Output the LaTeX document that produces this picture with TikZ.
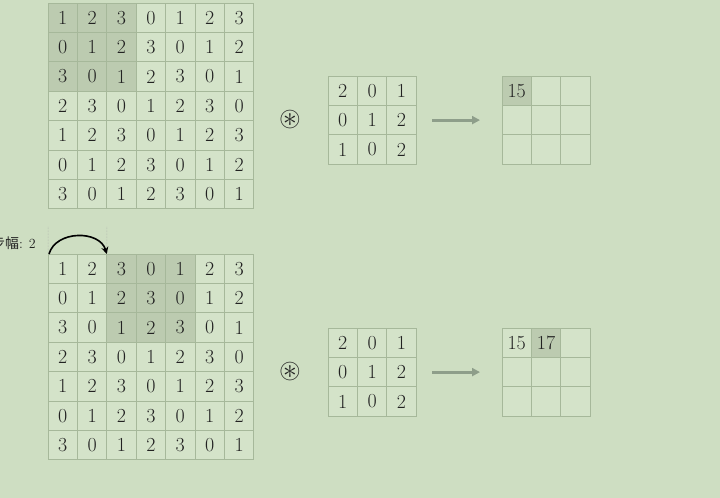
\documentclass[tikz,border=0pt]{standalone}
\usepackage{amssymb}
\usepackage{fontspec}
\newfontfamily\cjk{Noto Sans CJK SC}
\usetikzlibrary{arrows.meta}
\definecolor{bg}{HTML}{CEDEC2}
\definecolor{cellfill}{HTML}{D4E3C9}
\definecolor{cellhl}{HTML}{BCCBB0}
\definecolor{cellline}{HTML}{A6B89A}
\definecolor{ink}{HTML}{222222}
\definecolor{arrowc}{HTML}{8E9E8A}
\begin{document}
\begin{tikzpicture}[x=1bp,y=-1bp,
  cell/.style={draw=cellline, line width=0.9bp, minimum size=29.4bp, inner sep=0pt, outer sep=0pt,
    font=\fontsize{20}{20}\selectfont, text=ink},
  opsym/.style={font=\fontsize{28}{28}\selectfont, text=ink, inner sep=0pt},
  flow/.style={draw=arrowc, line width=3bp, -{Triangle[length=8bp,width=8bp]}},
  guide/.style={draw=gray!70, line width=0.5bp, densely dotted},
  hop/.style={draw=black, line width=1.6bp, -{Stealth[length=7bp,width=7bp]}},
  lbl/.style={font=\fontsize{14}{14}\selectfont, text=ink, inner sep=0pt}]
\fill[bg] (0,0) rectangle (720,498);
\useasboundingbox (0,0) rectangle (720,498);
% input grids
\foreach \row [count=\r from 0] in {{1,2,3,0,1,2,3},{0,1,2,3,0,1,2},{3,0,1,2,3,0,1},{2,3,0,1,2,3,0},{1,2,3,0,1,2,3},{0,1,2,3,0,1,2},{3,0,1,2,3,0,1}}{
  \foreach \v [count=\c from 0] in \row {
    \ifnum\r<3 \ifnum\c<3 \gdef\fca{cellhl}\else\gdef\fca{cellfill}\fi\else\gdef\fca{cellfill}\fi
    \ifnum\r<3 \ifnum\c>1 \ifnum\c<5 \gdef\fcb{cellhl}\else\gdef\fcb{cellfill}\fi\else\gdef\fcb{cellfill}\fi\else\gdef\fcb{cellfill}\fi
    \node[cell, fill=\fca] (A-\r-\c) at ({62.7+29.4*\c},{17.7+29.4*\r}) {\v};
    \node[cell, fill=\fcb] (B-\r-\c) at ({62.7+29.4*\c},{268.7+29.4*\r}) {\v};
  }
}
% kernels
\foreach \row [count=\r from 0] in {{2,0,1},{0,1,2},{1,0,2}}{
  \foreach \v [count=\c from 0] in \row {
    \node[cell, fill=cellfill] (K-\r-\c) at ({342.7+29.4*\c},{90.7+29.4*\r}) {\v};
    \node[cell, fill=cellfill] (L-\r-\c) at ({342.7+29.4*\c},{342.7+29.4*\r}) {\v};
  }
}
% outputs
\foreach \r in {0,1,2}{
  \foreach \c in {0,1,2}{
    \node[cell, fill=cellfill] (O-\r-\c) at ({516.7+29.4*\c},{90.7+29.4*\r}) {};
    \node[cell, fill=cellfill] (P-\r-\c) at ({516.7+29.4*\c},{342.7+29.4*\r}) {};
  }
}
\node[cell, fill=cellhl] (O-0-0) at (516.7,90.7) {15};
\node[cell, fill=cellfill] (P-0-0) at (516.7,342.7) {15};
\node[cell, fill=cellhl] (P-0-1) at (546.1,342.7) {17};
% operators
\node[opsym] (op1) at (290,120) {$\circledast$};
\node[opsym] (op2) at (290,372) {$\circledast$};
% arrows
\draw[flow, shorten <=16bp, shorten >=22bp] (K-1-2.east) -- (O-1-0.west);
\draw[flow, shorten <=16bp, shorten >=22bp] (L-1-2.east) -- (P-1-0.west);
% stride
\coordinate (g0) at (48,227);
\coordinate (g1) at (106.8,227);
\draw[guide] (g0) -- (B-0-0.north west);
\draw[guide] (g1) -- (B-0-2.north west);
\draw[hop] ([xshift=1bp]B-0-0.north west) .. controls +(7,-24) and +(-7,-24) .. (B-0-2.north west);
\node[lbl, anchor=base east] (stride) at (36,249) {{\cjk 步幅}: 2};
\end{tikzpicture}
\end{document}
